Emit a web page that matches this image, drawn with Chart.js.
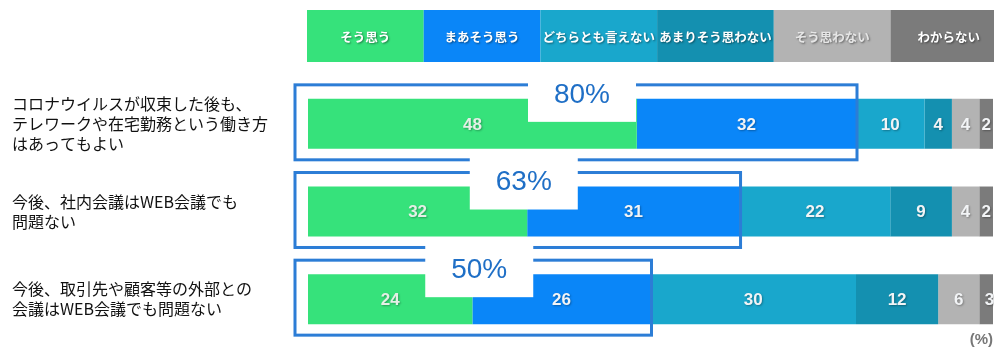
<!DOCTYPE html>
<html>
<head>
<meta charset="utf-8">
<script src="https://cdn.jsdelivr.net/npm/chart.js@4/dist/chart.umd.min.js"></script>
<style>
  body { margin: 0; background: #fff; }
  #wrap { width: 994px; height: 350px; position: relative; }
</style>
</head>
<body>
<div id="wrap"><canvas id="myChart"></canvas></div>
<script>
const CATEGORIES = [
    ['コロナウイルスが収束した後も、', 'テレワークや在宅勤務という働き方', 'はあってもよい'],
    ['今後、社内会議はWEB会議でも', '問題ない'],
    ['今後、取引先や顧客等の外部との', '会議はWEB会議でも問題ない']
];
const SERIES_NAMES = ['そう思う', 'まあそう思う', 'どちらとも言えない', 'あまりそう思わない', 'そう思わない', 'わからない'];
const AGREE = [48, 32, 24];
const SOMEWHAT_AGREE = [32, 31, 26];
const NEUTRAL = [10, 22, 30];
const SOMEWHAT_DISAGREE = [4, 9, 12];
const DISAGREE = [4, 4, 6];
const DONT_KNOW = [2, 2, 3];
const POSITIVE_TOTALS = [80, 63, 50];

const COLORS = ['#36e27b', '#0a86f8', '#19a7cc', '#1490b0', '#b3b3b3', '#7b7b7b'];
const SERIES = [AGREE, SOMEWHAT_AGREE, NEUTRAL, SOMEWHAT_DISAGREE, DISAGREE, DONT_KNOW];

// legend drawn as a row of coloured cells above the bars
const legendCells = {
    id: 'legendCells',
    afterDraw(chart) {
        const c = chart.ctx;
        const left = chart.chartArea.left - 1;
        const w = 116.7;
        c.save();
        SERIES_NAMES.forEach((name, i) => {
            c.fillStyle = COLORS[i];
            c.fillRect(left + i * w, 10, w, 52);
            c.font = "bold 12.5px 'Noto Sans CJK JP', sans-serif";
            c.textAlign = 'center';
            c.textBaseline = 'middle';
            c.shadowColor = 'rgba(0,0,0,0.45)';
            c.shadowOffsetX = 1;
            c.shadowOffsetY = 1;
            c.shadowBlur = 2;
            c.fillStyle = i === 4 ? '#e6e6e6' : '#ffffff';
            c.fillText(name, left + i * w + w / 2, 37);
            c.shadowColor = 'transparent';
        });
        c.restore();
    }
};

// boxes around the two positive segments with the total on top
const callouts = {
    id: 'callouts',
    afterDatasetsDraw(chart) {
        const c = chart.ctx;
        const x = chart.scales.x;
        const first = chart.getDatasetMeta(0).data;
        const boxLeft = chart.chartArea.left - 13;
        c.save();
        POSITIVE_TOTALS.forEach((total, i) => {
            const bar = first[i];
            const top = bar.y - bar.height / 2;
            const bottom = bar.y + bar.height / 2;
            const sum = AGREE[i] + SOMEWHAT_AGREE[i];
            c.strokeStyle = '#2c7dd6';
            c.lineWidth = 3;
            c.strokeRect(boxLeft, top - 14, x.getPixelForValue(sum) + 1 - boxLeft, bottom - top + 25);
        });
        POSITIVE_TOTALS.forEach((total, i) => {
            const bar = first[i];
            const top = bar.y - bar.height / 2;
            const cx = x.getPixelForValue(total / 2);
            c.fillStyle = '#ffffff';
            c.fillRect(cx - 54, top - 30, 108, 53);
            c.fillStyle = '#1f6fc6';
            c.font = "28px 'Liberation Sans', Arial, sans-serif";
            c.textAlign = 'center';
            c.textBaseline = 'middle';
            c.fillText(total + '%', cx, top - 4);
        });
        c.restore();
    }
};

// numbers inside each segment
const valueLabels = {
    id: 'valueLabels',
    afterDatasetsDraw(chart) {
        const c = chart.ctx;
        c.save();
        c.font = "bold 17px 'Liberation Sans', Arial, sans-serif";
        c.textAlign = 'center';
        c.textBaseline = 'middle';
        c.shadowColor = 'rgba(0,0,0,0.3)';
        c.shadowOffsetX = 1;
        c.shadowOffsetY = 1;
        c.shadowBlur = 2;
        chart.data.datasets.forEach((ds, di) => {
            chart.getDatasetMeta(di).data.forEach((el, i) => {
                const cx = (el.x + el.base) / 2;
                c.fillStyle = di === 0 ? '#e4efe6' : '#f2f4f6';
                c.fillText(ds.data[i], cx, el.y + 1);
            });
        });
        c.restore();
    }
};

const percentNote = {
    id: 'percentNote',
    afterDraw(chart) {
        const c = chart.ctx;
        c.save();
        c.font = "bold 15px 'Liberation Sans', Arial, sans-serif";
        c.fillStyle = '#777';
        c.textAlign = 'right';
        c.textBaseline = 'middle';
        c.fillText('(%)', 993, 340);
        c.restore();
    }
};

const ctx = document.querySelector('#myChart');

var chart = new Chart(ctx, {
    type: 'bar',
    data: {
        labels: CATEGORIES,
        datasets: SERIES_NAMES.map((name, i) => ({
            label: name,
            data: SERIES[i],
            backgroundColor: COLORS[i],
            borderWidth: 0,
            categoryPercentage: 1,
            barPercentage: 0.57
        }))
    },
    options: {
        indexAxis: 'y',
        responsive: true,
        maintainAspectRatio: false,
        animation: false,
        layout: {
            padding: { top: 80, bottom: 7, left: 12, right: 1 }
        },
        scales: {
            x: {
                stacked: true,
                min: 0,
                max: 100,
                display: false
            },
            y: {
                stacked: true,
                grid: { display: false },
                border: { display: false },
                afterFit(scale) {
                    scale.width = 296;
                    scale.paddingTop = 0;
                    scale.paddingBottom = 0;
                },
                ticks: {
                    crossAlign: 'far',
                    color: '#111',
                    font: { family: "'Noto Sans CJK JP', sans-serif", size: 16, lineHeight: 1.25 }
                }
            }
        },
        plugins: {
            legend: { display: false },
            tooltip: { enabled: false }
        }
    },
    plugins: [callouts, valueLabels, legendCells, percentNote]
});
</script>
</body>
</html>
